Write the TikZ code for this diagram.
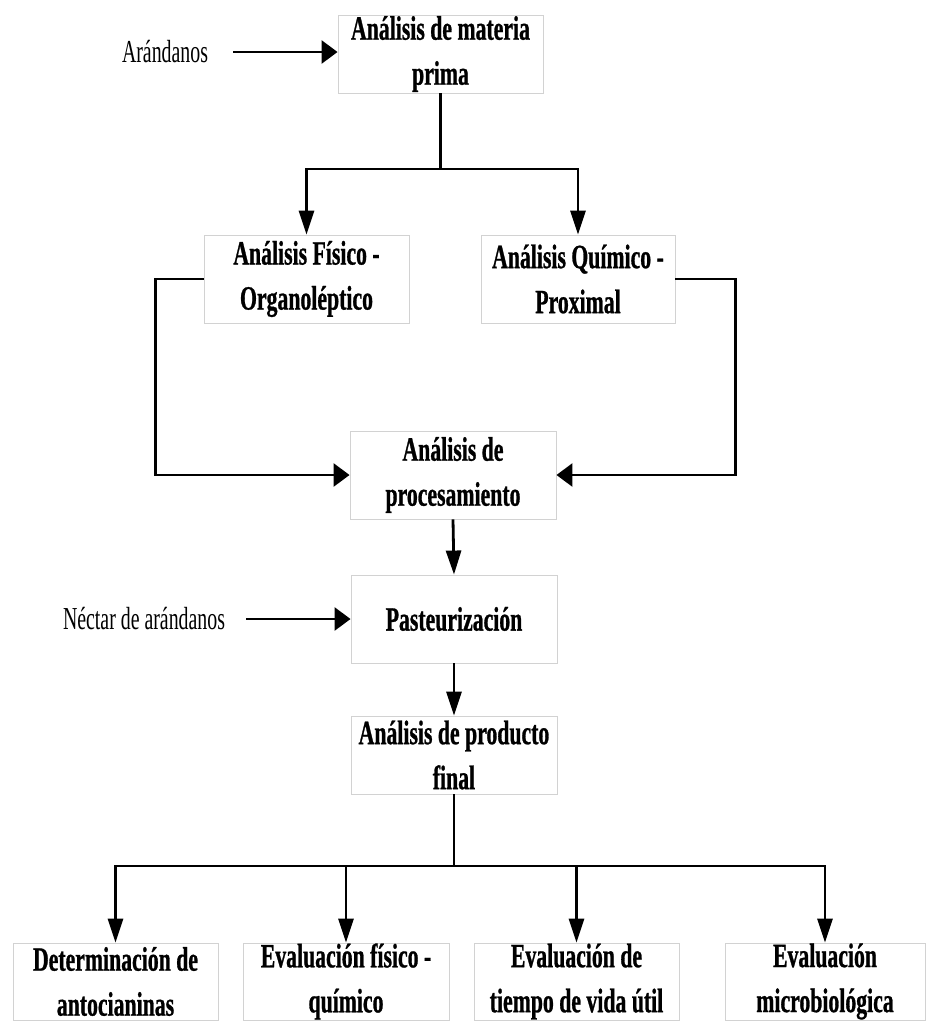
\documentclass[tikz,border=0pt]{standalone}
\usepackage{fontspec}
\setmainfont{Liberation Serif}
\newfontfamily\condfont[FakeStretch=0.64,BoldFeatures={FakeBold=0.8}]{Liberation Serif}
\newfontfamily\lblfont[FakeStretch=0.62]{Liberation Serif}
\usetikzlibrary{arrows.meta}
\tikzset{
  box/.style={draw=gray!35, line width=0.9pt, fill=white, inner sep=0pt, align=center,
    minimum width=205pt, minimum height=88pt,
    font=\condfont\bfseries\fontsize{34}{45}\selectfont},
  lbl/.style={inner sep=0pt, font=\lblfont\fontsize{32}{36}\selectfont},
  conn/.style={line width=2.8pt, black},
  varrow/.style={conn, -{Triangle[length=24pt,width=15pt]}},
  harrow/.style={conn, -{Triangle[length=16pt,width=23pt]}}
}
\begin{document}
\begin{tikzpicture}[x=1pt,y=-1pt]
\useasboundingbox[fill=white] (0,0) rectangle (926,1021);
% nodes
\node[box, minimum height=78pt] (A) at (440.5,54) {Análisis de materia\\prima};
\node[box] (B) at (306.5,279) {Análisis Físico -\\Organoléptico};
\node[box, minimum width=194pt] (C) at (578,279) {Análisis Químico -\\Proximal};
\node[box, minimum width=206pt] (D) at (453,475) {Análisis de\\procesamiento};
\node[box, minimum width=206pt] (E) at (454,619) {Pasteurización};
\node[box, minimum width=206pt, minimum height=78pt] (F) at (454,755) {Análisis de producto\\final};
\node[box, minimum height=77pt] (G1) at (115.5,981.5) {Determinación de\\antocianinas};
\node[box, minimum width=206pt, minimum height=77pt] (G2) at (346,981.5) {Evaluación físico -\\químico};
\node[box, minimum height=77pt] (G3) at (576.5,981.5) {Evaluación de\\tiempo de vida útil};
\node[box, minimum width=200pt, minimum height=77pt] (G4) at (825,981.5) {Evaluación\\microbiológica};
\node[lbl] (L1) at (165,52) {Arándanos};
\node[lbl] (L2) at (144,619) {Néctar de arándanos};
\coordinate (j1) at (0,169);
\coordinate (j2) at (0,866);
% connectors
\draw[harrow] ([xshift=25pt]L1.east) -- (L1.east -| A.west);
\draw[conn] (A.south) -- (A.south |- j1);
\draw[varrow] (A.south |- j1) -| (B.north);
\draw[varrow] (A.south |- j1) -| (C.north);
\draw[harrow] (B.west) -- ++(-48,0) |- (D.west);
\draw[harrow] (C.east) -- ++(60,0) |- (D.east);
\draw[varrow] (D.south) -- (E.north);
\draw[harrow] ([xshift=21pt]L2.east) -- (L2.east -| E.west);
\draw[varrow] (E.south) -- (F.north);
\draw[conn] (F.south) -- (F.south |- j2);
\draw[varrow] (F.south |- j2) -| (G1.north);
\draw[varrow] (F.south |- j2) -| (G2.north);
\draw[varrow] (F.south |- j2) -| (G3.north);
\draw[varrow] (F.south |- j2) -| (G4.north);
\end{tikzpicture}
\end{document}
